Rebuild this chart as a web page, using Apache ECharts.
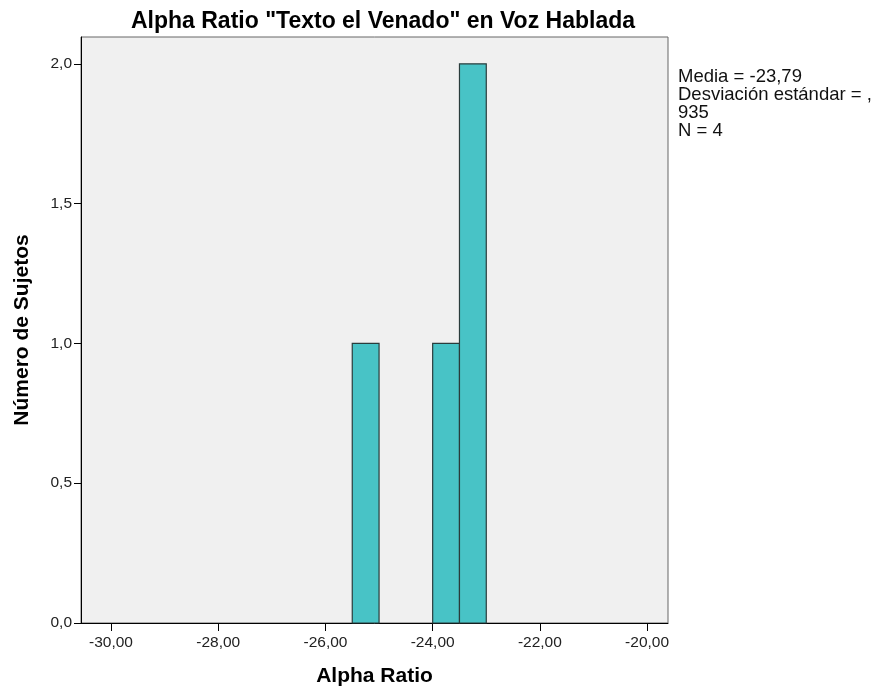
<!DOCTYPE html>
<html><head><meta charset="utf-8">
<script src="https://cdn.jsdelivr.net/npm/echarts@6/dist/echarts.min.js"></script>
<style>html,body{margin:0;padding:0;background:#fff}#c{width:876px;height:692px}</style>
</head><body><div id="c"></div>
<script>
const binStart = [-25.5, -24.0, -23.5];
const binEnd = [-25.0, -23.5, -23.0];
const counts = [1, 1, 2];
const xTicks = [-30, -28, -26, -24, -22, -20];
const yTicks = [0, 0.5, 1.0, 1.5, 2.0];
const statsLines = ['Media = -23,79', 'Desviación estándar = ,', '935', 'N = 4'];
const titleText = 'Alpha Ratio "Texto el Venado" en Voz Hablada';

const fmtX = v => v.toFixed(2).replace('.', ',');
const fmtY = v => v.toFixed(1).replace('.', ',');
const FONT = '"Liberation Sans", Arial, sans-serif';

const chart = echarts.init(document.getElementById('c'));
chart.setOption({
  animation: false,
  title: { text: titleText, left: 378, textAlign: 'center', top: 5,
    textStyle: { fontFamily: FONT, fontSize: 23, fontWeight: 'bold', color: '#000' } },
  grid: { left: 81, right: 208, top: 37, bottom: 67, show: true,
    backgroundColor: '#f0f0f0', borderColor: '#666', borderWidth: 1 },
  xAxis: { type: 'value', min: -30.56, max: -19.61,
    name: 'Alpha Ratio', nameLocation: 'middle', nameGap: 43,
    nameTextStyle: { fontFamily: FONT, fontSize: 21, fontWeight: 'bold', color: '#000' },
    axisLine: { lineStyle: { color: '#000' } },
    axisTick: { show: true, length: 8, customValues: xTicks, lineStyle: { color: '#000' } },
    axisLabel: { customValues: xTicks, formatter: fmtX, fontFamily: FONT, fontSize: 15.5, color: '#222', margin: 12 },
    splitLine: { show: false } },
  yAxis: { type: 'value', min: 0, max: 2.096,
    name: 'Número de Sujetos', nameLocation: 'middle', nameGap: 48,
    nameTextStyle: { fontFamily: FONT, fontSize: 21, fontWeight: 'bold', color: '#000' },
    axisLine: { show: true, lineStyle: { color: '#000' } },
    axisTick: { show: true, length: 7, customValues: yTicks, lineStyle: { color: '#000' } },
    axisLabel: { customValues: yTicks, formatter: fmtY, fontFamily: FONT, fontSize: 15.5, color: '#222', margin: 9 },
    splitLine: { show: false } },
  series: [{
    type: 'custom',
    data: binStart.map((s, i) => [s, binEnd[i], counts[i]]),
    encode: { x: [0, 1], y: 2 },
    renderItem: function (params, api) {
      const p0 = api.coord([api.value(0), api.value(2)]);
      const p1 = api.coord([api.value(1), 0]);
      return { type: 'rect',
        shape: { x: p0[0], y: p0[1], width: p1[0] - p0[0], height: p1[1] - p0[1] },
        style: { fill: '#48c3c6', stroke: '#2a3c3c', lineWidth: 1.2 } };
    }
  }],
  graphic: [{ type: 'text', left: 678, top: 67,
    style: { text: statsLines.join('\n'), font: '18.5px ' + FONT, lineHeight: 18, fill: '#111' } }]
});
</script></body></html>
